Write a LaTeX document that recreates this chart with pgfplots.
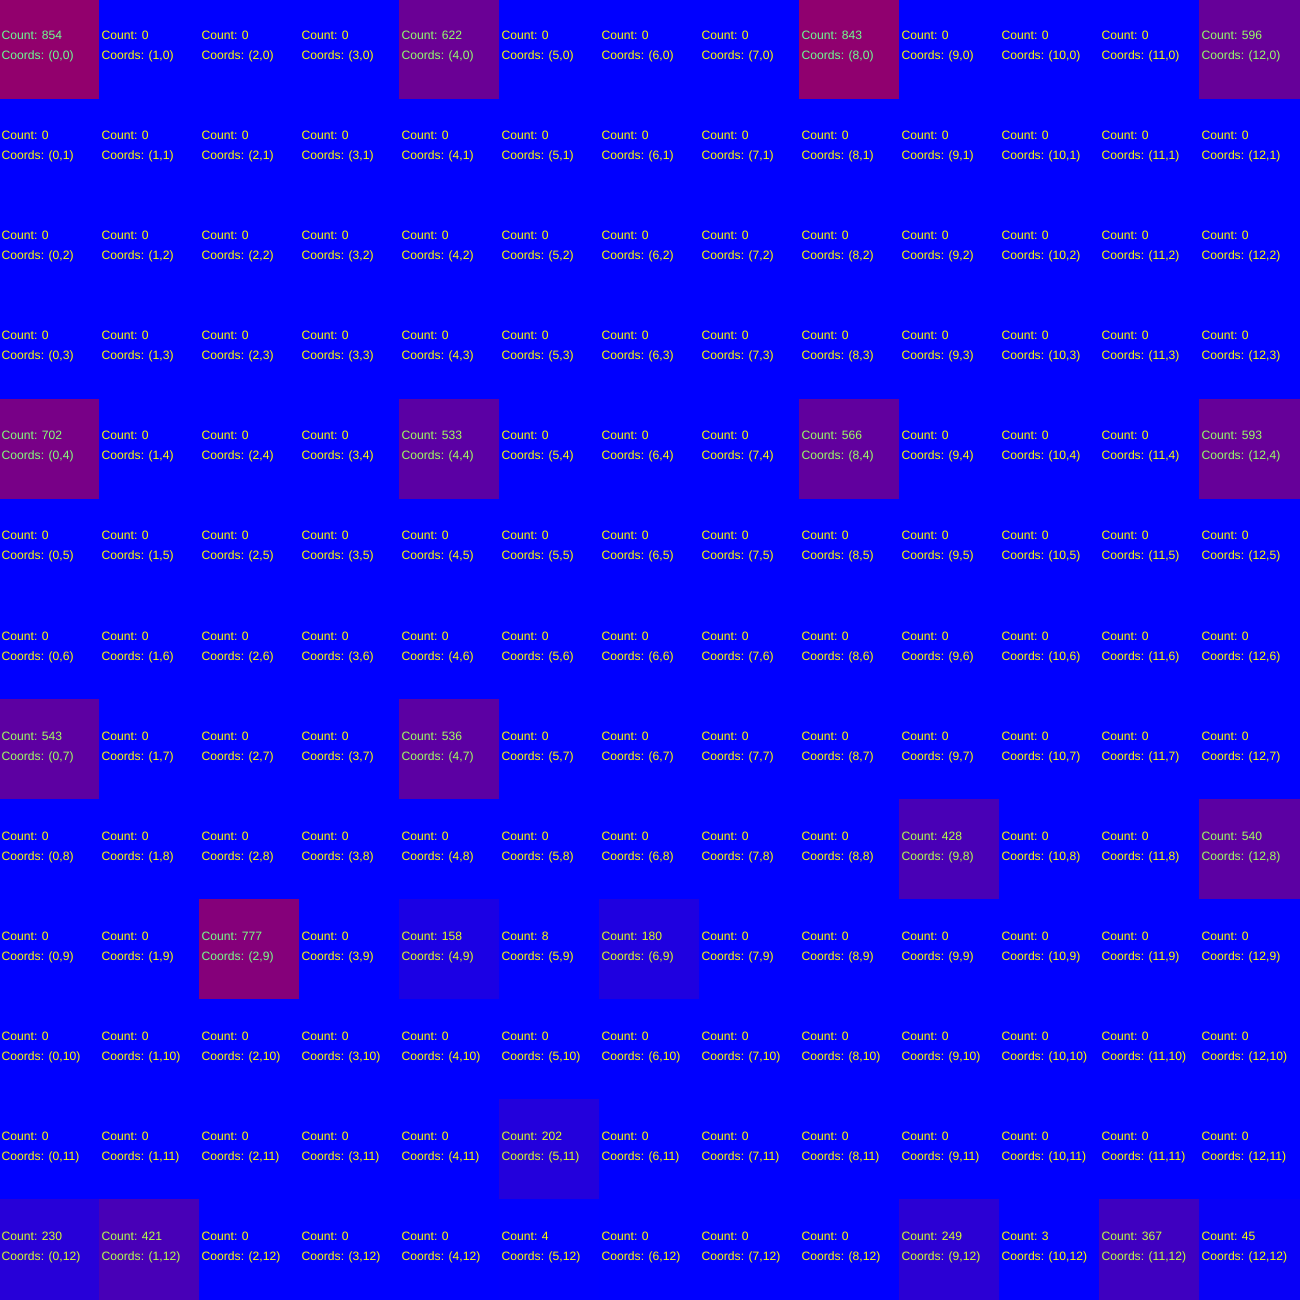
\documentclass[border=0pt]{standalone}
\usepackage{pgfplots}
\usepackage{pgfplotstable}
\pgfplotsset{compat=1.18}
\usepackage{fontspec}
\newfontfamily\cellfont{Liberation Sans}

% cell counts, x = column, y = row (row 0 on top)
\pgfplotstableread[row sep=\\]{
x y c \\
0 0 854 \\ 1 0 0 \\ 2 0 0 \\ 3 0 0 \\ 4 0 622 \\ 5 0 0 \\ 6 0 0 \\ 7 0 0 \\ 8 0 843 \\ 9 0 0 \\ 10 0 0 \\ 11 0 0 \\ 12 0 596 \\
0 1 0 \\ 1 1 0 \\ 2 1 0 \\ 3 1 0 \\ 4 1 0 \\ 5 1 0 \\ 6 1 0 \\ 7 1 0 \\ 8 1 0 \\ 9 1 0 \\ 10 1 0 \\ 11 1 0 \\ 12 1 0 \\
0 2 0 \\ 1 2 0 \\ 2 2 0 \\ 3 2 0 \\ 4 2 0 \\ 5 2 0 \\ 6 2 0 \\ 7 2 0 \\ 8 2 0 \\ 9 2 0 \\ 10 2 0 \\ 11 2 0 \\ 12 2 0 \\
0 3 0 \\ 1 3 0 \\ 2 3 0 \\ 3 3 0 \\ 4 3 0 \\ 5 3 0 \\ 6 3 0 \\ 7 3 0 \\ 8 3 0 \\ 9 3 0 \\ 10 3 0 \\ 11 3 0 \\ 12 3 0 \\
0 4 702 \\ 1 4 0 \\ 2 4 0 \\ 3 4 0 \\ 4 4 533 \\ 5 4 0 \\ 6 4 0 \\ 7 4 0 \\ 8 4 566 \\ 9 4 0 \\ 10 4 0 \\ 11 4 0 \\ 12 4 593 \\
0 5 0 \\ 1 5 0 \\ 2 5 0 \\ 3 5 0 \\ 4 5 0 \\ 5 5 0 \\ 6 5 0 \\ 7 5 0 \\ 8 5 0 \\ 9 5 0 \\ 10 5 0 \\ 11 5 0 \\ 12 5 0 \\
0 6 0 \\ 1 6 0 \\ 2 6 0 \\ 3 6 0 \\ 4 6 0 \\ 5 6 0 \\ 6 6 0 \\ 7 6 0 \\ 8 6 0 \\ 9 6 0 \\ 10 6 0 \\ 11 6 0 \\ 12 6 0 \\
0 7 543 \\ 1 7 0 \\ 2 7 0 \\ 3 7 0 \\ 4 7 536 \\ 5 7 0 \\ 6 7 0 \\ 7 7 0 \\ 8 7 0 \\ 9 7 0 \\ 10 7 0 \\ 11 7 0 \\ 12 7 0 \\
0 8 0 \\ 1 8 0 \\ 2 8 0 \\ 3 8 0 \\ 4 8 0 \\ 5 8 0 \\ 6 8 0 \\ 7 8 0 \\ 8 8 0 \\ 9 8 428 \\ 10 8 0 \\ 11 8 0 \\ 12 8 540 \\
0 9 0 \\ 1 9 0 \\ 2 9 777 \\ 3 9 0 \\ 4 9 158 \\ 5 9 8 \\ 6 9 180 \\ 7 9 0 \\ 8 9 0 \\ 9 9 0 \\ 10 9 0 \\ 11 9 0 \\ 12 9 0 \\
0 10 0 \\ 1 10 0 \\ 2 10 0 \\ 3 10 0 \\ 4 10 0 \\ 5 10 0 \\ 6 10 0 \\ 7 10 0 \\ 8 10 0 \\ 9 10 0 \\ 10 10 0 \\ 11 10 0 \\ 12 10 0 \\
0 11 0 \\ 1 11 0 \\ 2 11 0 \\ 3 11 0 \\ 4 11 0 \\ 5 11 202 \\ 6 11 0 \\ 7 11 0 \\ 8 11 0 \\ 9 11 0 \\ 10 11 0 \\ 11 11 0 \\ 12 11 0 \\
0 12 230 \\ 1 12 421 \\ 2 12 0 \\ 3 12 0 \\ 4 12 0 \\ 5 12 4 \\ 6 12 0 \\ 7 12 0 \\ 8 12 0 \\ 9 12 249 \\ 10 12 3 \\ 11 12 367 \\ 12 12 45 \\
}\cells

% text colour = inverse of the cell colour
\newcommand{\inv}[1]{%
  \pgfmathtruncatemacro\rr{#1/1500*255}%
  \pgfmathtruncatemacro\ti{255-\rr}%
  \definecolor{tc}{RGB}{\ti,255,\rr}\color{tc}}
\newcommand{\coordnum}[1]{\pgfmathprintnumber[fixed,precision=0,assume math mode=true]{\pgfkeysvalueof{/data point/#1}}}

\begin{document}
\begin{tikzpicture}
\begin{axis}[
    name=grid,
    hide axis,
    scale only axis,
    width=13cm, height=13cm,
    xmin=-0.5, xmax=12.5,
    ymin=-0.5, ymax=12.5,
    y dir=reverse,
    colormap={rb}{rgb255(0cm)=(0,0,255); rgb255(1cm)=(255,0,0)},
    point meta min=0, point meta max=1500,
    every node near coord/.append style={anchor=base west, inner sep=0pt,
        xshift=-0.49cm, font=\cellfont\fontsize{3.45}{4}\selectfont},
]
\addplot[matrix plot*, shader=flat corner, draw=none, mesh/cols=13, point meta=explicit]
    table[x=x, y=y, meta=c] {\cells};

\addplot[draw=none, mark=none, point meta=explicit symbolic,
    every node near coord/.append style={yshift=0.1cm},
    nodes near coords={\inv{\pgfplotspointmeta}Count: \pgfplotspointmeta}]
    table[x=x, y=y, meta=c] {\cells};

\addplot[draw=none, mark=none, point meta=explicit symbolic,
    every node near coord/.append style={yshift=-0.1cm},
    nodes near coords={\inv{\pgfplotspointmeta}Coords: (\coordnum{x},\coordnum{y})}]
    table[x=x, y=y, meta=c] {\cells};
\end{axis}
\pgfresetboundingbox
\path (grid.south west) rectangle (grid.north east);
\end{tikzpicture}
\end{document}
